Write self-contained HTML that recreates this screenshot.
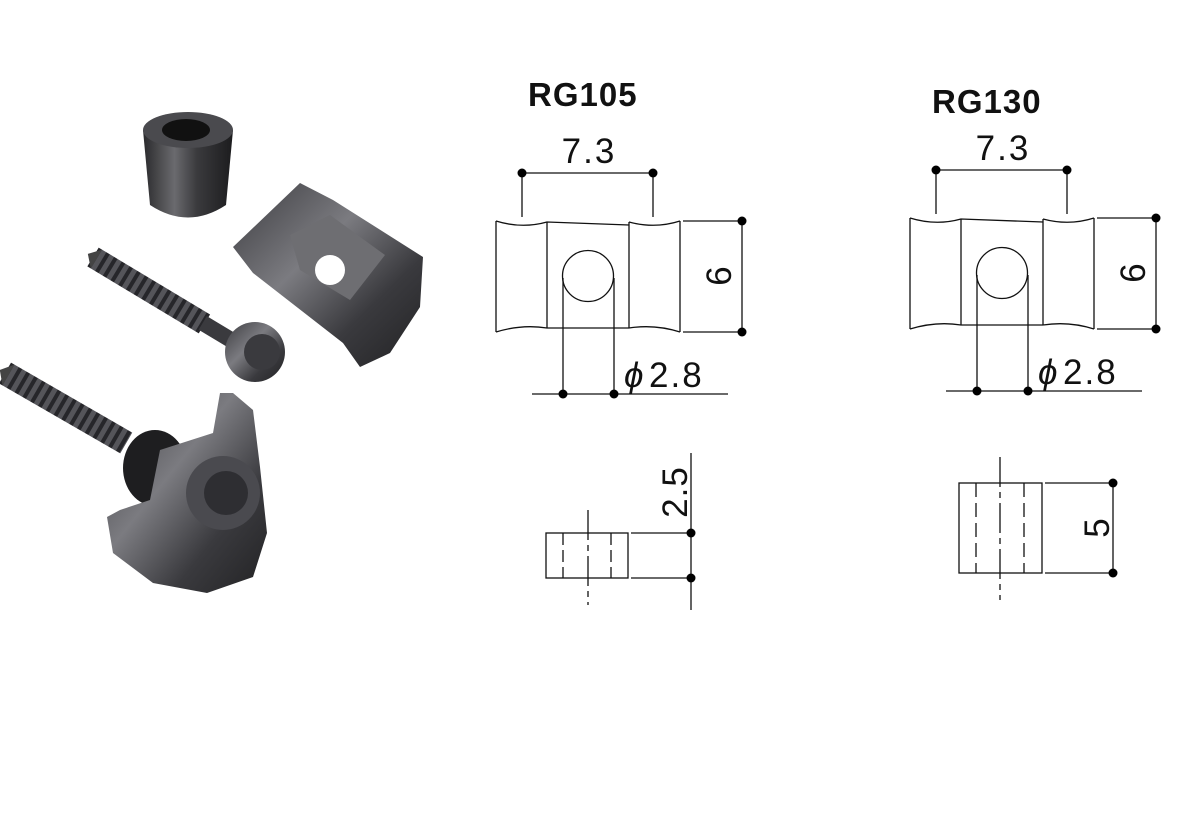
<!DOCTYPE html>
<html><head><meta charset="utf-8"><style>
html,body{margin:0;padding:0;background:#fff;}
svg{display:block;}
text{font-family:"Liberation Sans",Arial,sans-serif;}
</style></head><body>
<svg width="1200" height="840" viewBox="0 0 1200 840" xmlns="http://www.w3.org/2000/svg">
<defs>
<linearGradient id="m1" x1="0" y1="0" x2="1" y2="0">
<stop offset="0" stop-color="#2a2a2c"/><stop offset="0.35" stop-color="#6a6a6e"/><stop offset="0.6" stop-color="#3a3a3d"/><stop offset="1" stop-color="#1c1c1e"/></linearGradient>
<linearGradient id="m2" x1="0" y1="0" x2="1" y2="1">
<stop offset="0" stop-color="#3c3c40"/><stop offset="0.4" stop-color="#7b7b80"/><stop offset="0.7" stop-color="#3a3a3e"/><stop offset="1" stop-color="#222224"/></linearGradient>
<pattern id="thr" width="9" height="30" patternUnits="userSpaceOnUse">
<rect width="9" height="30" fill="#55555a"/><rect width="4" height="30" fill="#26262a"/></pattern>
</defs>

<path d="M143,130 L150,205 Q188,230 226,205 L233,130 Z" fill="url(#m1)"/>
<ellipse cx="188" cy="130" rx="45" ry="18" fill="#4a4a4e"/>
<ellipse cx="186" cy="130" rx="24" ry="11" fill="#111"/>
<polygon points="233,247 300,183 333,200 423,257 420,307 390,353 360,367 343,343 253,273" fill="url(#m2)"/>
<polygon points="290,235 330,215 385,255 350,300 300,270" fill="#6e6e72"/>
<circle cx="330" cy="270" r="15" fill="#fff"/>
<g transform="translate(93,257) rotate(31)">
<rect x="0" y="-11" width="130" height="22" fill="url(#thr)"/>
<polygon points="-6,0 4,-11 4,11" fill="#444"/>
<rect x="128" y="-8" width="50" height="16" fill="#3a3a3e"/>
</g>
<circle cx="255" cy="352" r="30" fill="url(#m2)"/>
<circle cx="262" cy="352" r="18" fill="#3a3a3e"/>
<g transform="translate(5,373) rotate(30)">
<rect x="0" y="-12" width="140" height="24" fill="url(#thr)"/>
<polygon points="-6,0 4,-12 4,12" fill="#444"/>
</g>
<ellipse cx="155" cy="468" rx="32" ry="38" fill="#1e1e20"/>
<polygon points="107,517 113,553 153,583 207,593 253,577 267,533 260,467 253,410 233,393 220,393 213,433 160,450 150,500 120,510" fill="url(#m2)"/>
<circle cx="223" cy="493" r="37" fill="#4a4a4f"/>
<circle cx="226" cy="493" r="22" fill="#2e2e32"/>

<g stroke="#111" stroke-width="1.3" fill="none">
<line x1="522" y1="173" x2="653" y2="173"/>
<line x1="522" y1="173" x2="522" y2="217"/>
<line x1="653" y1="173" x2="653" y2="217"/>
<path d="M496,221 Q522,229 547,222 L629,225 M629,222 Q655,229 680,221"/>
<path d="M496,332 Q522,324 547,328 L629,328 M629,328 Q655,324 680,332"/>
<line x1="496" y1="221" x2="496" y2="332"/>
<line x1="680" y1="221" x2="680" y2="332"/>
<line x1="547" y1="222" x2="547" y2="328"/>
<line x1="629" y1="222" x2="629" y2="328"/>
<circle cx="588" cy="276" r="25.5"/>
<line x1="563" y1="278" x2="563" y2="394"/>
<line x1="614" y1="278" x2="614" y2="394"/>
<line x1="532" y1="394" x2="728" y2="394"/>
<line x1="683" y1="221" x2="742" y2="221"/>
<line x1="683" y1="332" x2="742" y2="332"/>
<line x1="742" y1="221" x2="742" y2="332"/>
<rect x="546" y="533" width="82" height="45"/>
<line x1="563" y1="533" x2="563" y2="578" stroke-dasharray="12,5"/>
<line x1="611" y1="533" x2="611" y2="578" stroke-dasharray="12,5"/>
<line x1="588" y1="510" x2="588" y2="605" stroke-dasharray="30,5,6,5"/>
<line x1="631" y1="533" x2="691" y2="533"/>
<line x1="631" y1="578" x2="691" y2="578"/>
<line x1="691" y1="453" x2="691" y2="610"/>

<line x1="936" y1="170" x2="1067" y2="170"/>
<line x1="936" y1="170" x2="936" y2="214"/>
<line x1="1067" y1="170" x2="1067" y2="214"/>
<path d="M910,218 Q936,226 961,219 L1043,222 M1043,219 Q1069,226 1094,218"/>
<path d="M910,329 Q936,321 961,325 L1043,325 M1043,325 Q1069,321 1094,329"/>
<line x1="910" y1="218" x2="910" y2="329"/>
<line x1="1094" y1="218" x2="1094" y2="329"/>
<line x1="961" y1="219" x2="961" y2="325"/>
<line x1="1043" y1="219" x2="1043" y2="325"/>
<circle cx="1002" cy="273" r="25.5"/>
<line x1="977" y1="275" x2="977" y2="391"/>
<line x1="1028" y1="275" x2="1028" y2="391"/>
<line x1="946" y1="391" x2="1142" y2="391"/>
<line x1="1097" y1="218" x2="1156" y2="218"/>
<line x1="1097" y1="329" x2="1156" y2="329"/>
<line x1="1156" y1="218" x2="1156" y2="329"/>
<rect x="959" y="483" width="83" height="90"/>
<line x1="976" y1="483" x2="976" y2="573" stroke-dasharray="14,6"/>
<line x1="1024" y1="483" x2="1024" y2="573" stroke-dasharray="14,6"/>
<line x1="1000" y1="457" x2="1000" y2="600" stroke-dasharray="30,5,6,5"/>
<line x1="1045" y1="483" x2="1113" y2="483"/>
<line x1="1045" y1="573" x2="1113" y2="573"/>
<line x1="1113" y1="483" x2="1113" y2="573"/>
</g>
<g fill="#000">
<circle cx="522" cy="173" r="4.5"/><circle cx="653" cy="173" r="4.5"/>
<circle cx="742" cy="221" r="4.5"/><circle cx="742" cy="332" r="4.5"/>
<circle cx="563" cy="394" r="4.5"/><circle cx="614" cy="394" r="4.5"/>
<circle cx="691" cy="533" r="4.5"/><circle cx="691" cy="578" r="4.5"/>
<circle cx="936" cy="170" r="4.5"/><circle cx="1067" cy="170" r="4.5"/>
<circle cx="1156" cy="218" r="4.5"/><circle cx="1156" cy="329" r="4.5"/>
<circle cx="977" cy="391" r="4.5"/><circle cx="1028" cy="391" r="4.5"/>
<circle cx="1113" cy="483" r="4.5"/><circle cx="1113" cy="573" r="4.5"/>
</g>
<g fill="#111" font-size="35">
<text x="528" y="106" font-weight="bold" font-size="33" letter-spacing="1">RG105</text>
<text x="932" y="113" font-weight="bold" font-size="33" letter-spacing="1">RG130</text>
<text x="589" y="163" text-anchor="middle" letter-spacing="2">7.3</text>
<text x="1003" y="160" text-anchor="middle" letter-spacing="2">7.3</text>
<text x="624" y="387" font-style="italic">ϕ</text><text x="649" y="387" letter-spacing="2">2.8</text>
<text x="1038" y="384" font-style="italic">ϕ</text><text x="1063" y="384" letter-spacing="2">2.8</text>
<text transform="translate(731,276) rotate(-90)" text-anchor="middle">6</text>
<text transform="translate(1145,273) rotate(-90)" text-anchor="middle">6</text>
<text transform="translate(687,492) rotate(-90)" text-anchor="middle" letter-spacing="1">2.5</text>
<text transform="translate(1109,528) rotate(-90)" text-anchor="middle">5</text>
</g>
</svg>
</body></html>
